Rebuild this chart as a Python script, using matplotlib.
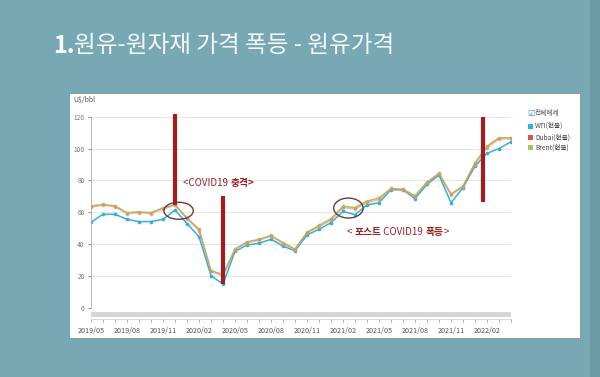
import matplotlib
matplotlib.use('Agg')
import matplotlib.pyplot as plt
from matplotlib.patches import Rectangle, Ellipse

plt.rcParams['font.family'] = ['Noto Sans CJK KR', 'DejaVu Sans']

months = ['2019/05', '2019/06', '2019/07', '2019/08', '2019/09', '2019/10',
          '2019/11', '2019/12', '2020/01', '2020/02', '2020/03', '2020/04',
          '2020/05', '2020/06', '2020/07', '2020/08', '2020/09', '2020/10',
          '2020/11', '2020/12', '2021/01', '2021/02', '2021/03', '2021/04',
          '2021/05', '2021/06', '2021/07', '2021/08', '2021/09', '2021/10',
          '2021/11', '2021/12', '2022/01', '2022/02', '2022/03', '2022/04']
tick_labels = ['2019/05', '2019/08', '2019/11', '2020/02', '2020/05', '2020/08',
               '2020/11', '2021/02', '2021/05', '2021/08', '2021/11', '2022/02']

wti = [53.8, 58.8, 58.8, 55.6, 54.2, 54.2, 55.6, 61.5, 53.0, 44.7, 20.3, 15.0,
       35.5, 39.5, 40.6, 43.1, 38.9, 35.8, 45.8, 49.4, 53.5, 60.6, 58.6, 64.6,
       66.0, 74.2, 74.2, 68.6, 77.5, 83.4, 66.0, 75.5, 89.0, 97.0, 100.0, 104.3]
dubai = [63.2, 64.5, 63.5, 59.2, 59.8, 59.2, 62.0, 64.5, 56.0, 48.5, 23.0, 20.0,
         36.5, 41.0, 42.5, 45.0, 40.3, 36.6, 47.0, 51.0, 55.0, 63.0, 62.0, 66.0,
         68.0, 74.5, 74.0, 69.5, 78.5, 84.0, 70.8, 76.0, 90.0, 100.5, 106.0, 106.0]
brent = [64.0, 65.0, 64.0, 59.8, 60.3, 59.8, 62.8, 64.8, 56.5, 49.5, 23.5, 21.0,
         37.0, 41.5, 43.0, 45.5, 41.0, 37.0, 47.5, 51.8, 56.0, 63.8, 63.0, 67.0,
         69.0, 75.0, 74.5, 70.5, 79.0, 84.5, 71.5, 76.5, 91.0, 101.5, 106.8, 106.8]

W, H = 600, 377
BG = '#77a8b4'
fig = plt.figure(figsize=(6, 3.77), dpi=100, facecolor=BG)

# right slide edge strip
fig.patches.append(Rectangle((590 / W, 0), 10 / W, 1, transform=fig.transFigure,
                             facecolor='#6b9aa6', edgecolor='none', zorder=-2))
# white chart panel
fig.patches.append(Rectangle((70 / W, 1 - 338 / H), 510 / W, 244 / H,
                             transform=fig.transFigure, facecolor='white',
                             edgecolor='none', zorder=-1))

# title
fig.text(53 / W, 1 - 46 / H, '1.', fontsize=17, weight='bold', color='white',
         va='center', ha='left')
fig.text(74 / W, 1 - 46 / H, '원유-원자재 가격 폭등 - 원유가격', fontsize=17,
         color='#f4f8f9', va='center', ha='left')

ax = fig.add_axes([91 / W, 1 - 308 / H, 420 / W, 191.3 / H])
ax.set_facecolor('none')
x = list(range(len(months)))

ax.plot(x, brent, color='#a6c35a', lw=1.1, marker='o', ms=1.6, zorder=3)
ax.plot(x, dubai, color='#ec8a6a', lw=1.1, marker='o', ms=1.6, alpha=0.6, zorder=4)
ax.plot(x, wti, color='#2bb3df', lw=1.1, marker='o', ms=1.6, zorder=2)

ax.set_xlim(0, len(months) - 1)
ax.set_ylim(0, 120)
ax.set_yticks([0, 20, 40, 60, 80, 100, 120])
ax.yaxis.grid(True, color='#e6e6e6', lw=0.7)
ax.set_axisbelow(True)
ax.tick_params(axis='y', labelsize=4.8, colors='#777777', length=2.5, width=0.6, pad=2)

ax.set_xticks(x, minor=True)
ax.set_xticks([months.index(t) for t in tick_labels])
ax.set_xticklabels(tick_labels)
ax.tick_params(axis='x', which='both', labelsize=5.2, colors='#888888', length=2.5,
               width=0.5, pad=3)
ax.tick_params(axis='x', which='major', labelcolor='#555555')
ax.spines['bottom'].set_position(('outward', 8))
ax.spines['bottom'].set_color('#cccccc')
ax.spines['bottom'].set_linewidth(0.5)
ax.spines['left'].set_color('#aaaaaa')
ax.spines['left'].set_linewidth(0.6)
ax.spines['top'].set_visible(False)
ax.spines['right'].set_visible(False)

# scrollbar band
ax.add_patch(Rectangle((0, -0.0486), 1, 0.0293, transform=ax.transAxes,
                       facecolor='#d6d6d6', edgecolor='none', clip_on=False))

fig.text(73 / W, 1 - 100 / H, 'U$/bbl', fontsize=5, color='#555555', va='center')

# annotations
RED = '#a51c1c'
ax.plot([7, 7], [64.6, 121.5], color=RED, lw=3, solid_capstyle='butt', clip_on=False, zorder=6)
ax.plot([11, 11], [15, 70.3], color=RED, lw=3, solid_capstyle='butt', clip_on=False, zorder=6)
ax.plot([32.67, 32.67], [66.7, 120], color=RED, lw=3, solid_capstyle='butt', clip_on=False, zorder=6)
ax.add_patch(Ellipse((7.3, 61), 2.45, 10.7, facecolor='none', edgecolor='#6b3a3a', lw=1, zorder=7))
ax.add_patch(Ellipse((21.45, 62.7), 2.45, 12.5, facecolor='none', edgecolor='#6b3a3a', lw=1, zorder=7))

TXT = '#9b1f22'
t1 = ax.annotate('<COVID19 ', (7.67, 78.4), color=TXT, fontsize=7, va='center', ha='left')
fig.canvas.draw()
bb = t1.get_window_extent()
ax.annotate('충격>', xy=(0, 0), xytext=(bb.x1, (bb.y0 + bb.y1) / 2), textcoords='figure pixels',
            color=TXT, fontsize=7, weight='bold', va='center', ha='left')
parts = [('< ', 'normal'), ('포스트', 'bold'), (' COVID19 ', 'normal'), ('폭등', 'bold'), ('>', 'normal')]
xpos = None
ypos = None
for s, w in parts:
    if xpos is None:
        t = ax.annotate(s, (21.33, 47.7), color=TXT, fontsize=7, weight=w, va='center', ha='left')
    else:
        t = ax.annotate(s, xy=(0, 0), xytext=(xpos, ypos), textcoords='figure pixels',
                        color=TXT, fontsize=7, weight=w, va='center', ha='left')
    fig.canvas.draw()
    b = t.get_window_extent()
    xpos = b.x1
    if ypos is None:
        ypos = (b.y0 + b.y1) / 2

# legend
fig.text(527 / W, 1 - 113 / H, '☑', family='DejaVu Sans', fontsize=6, color='#3b8fd6', va='center')
fig.text(535 / W, 1 - 113 / H, '전체해제', fontsize=4.8, color='#444444', va='center')
for yy, col, lab in [(126, '#2bb3df', 'WTI(현물)'), (137.5, '#e0524f', 'Dubai(현물)'),
                     (148, '#a6c35a', 'Brent(현물)')]:
    fig.patches.append(Rectangle((527.5 / W, 1 - (yy + 2.5) / H), 5 / W, 5 / H,
                                 transform=fig.transFigure, facecolor=col, edgecolor='none'))
    fig.text(535 / W, 1 - yy / H, lab, fontsize=4.8, color='#444444', va='center')

fig.savefig('out.png', dpi=100, facecolor=BG)
